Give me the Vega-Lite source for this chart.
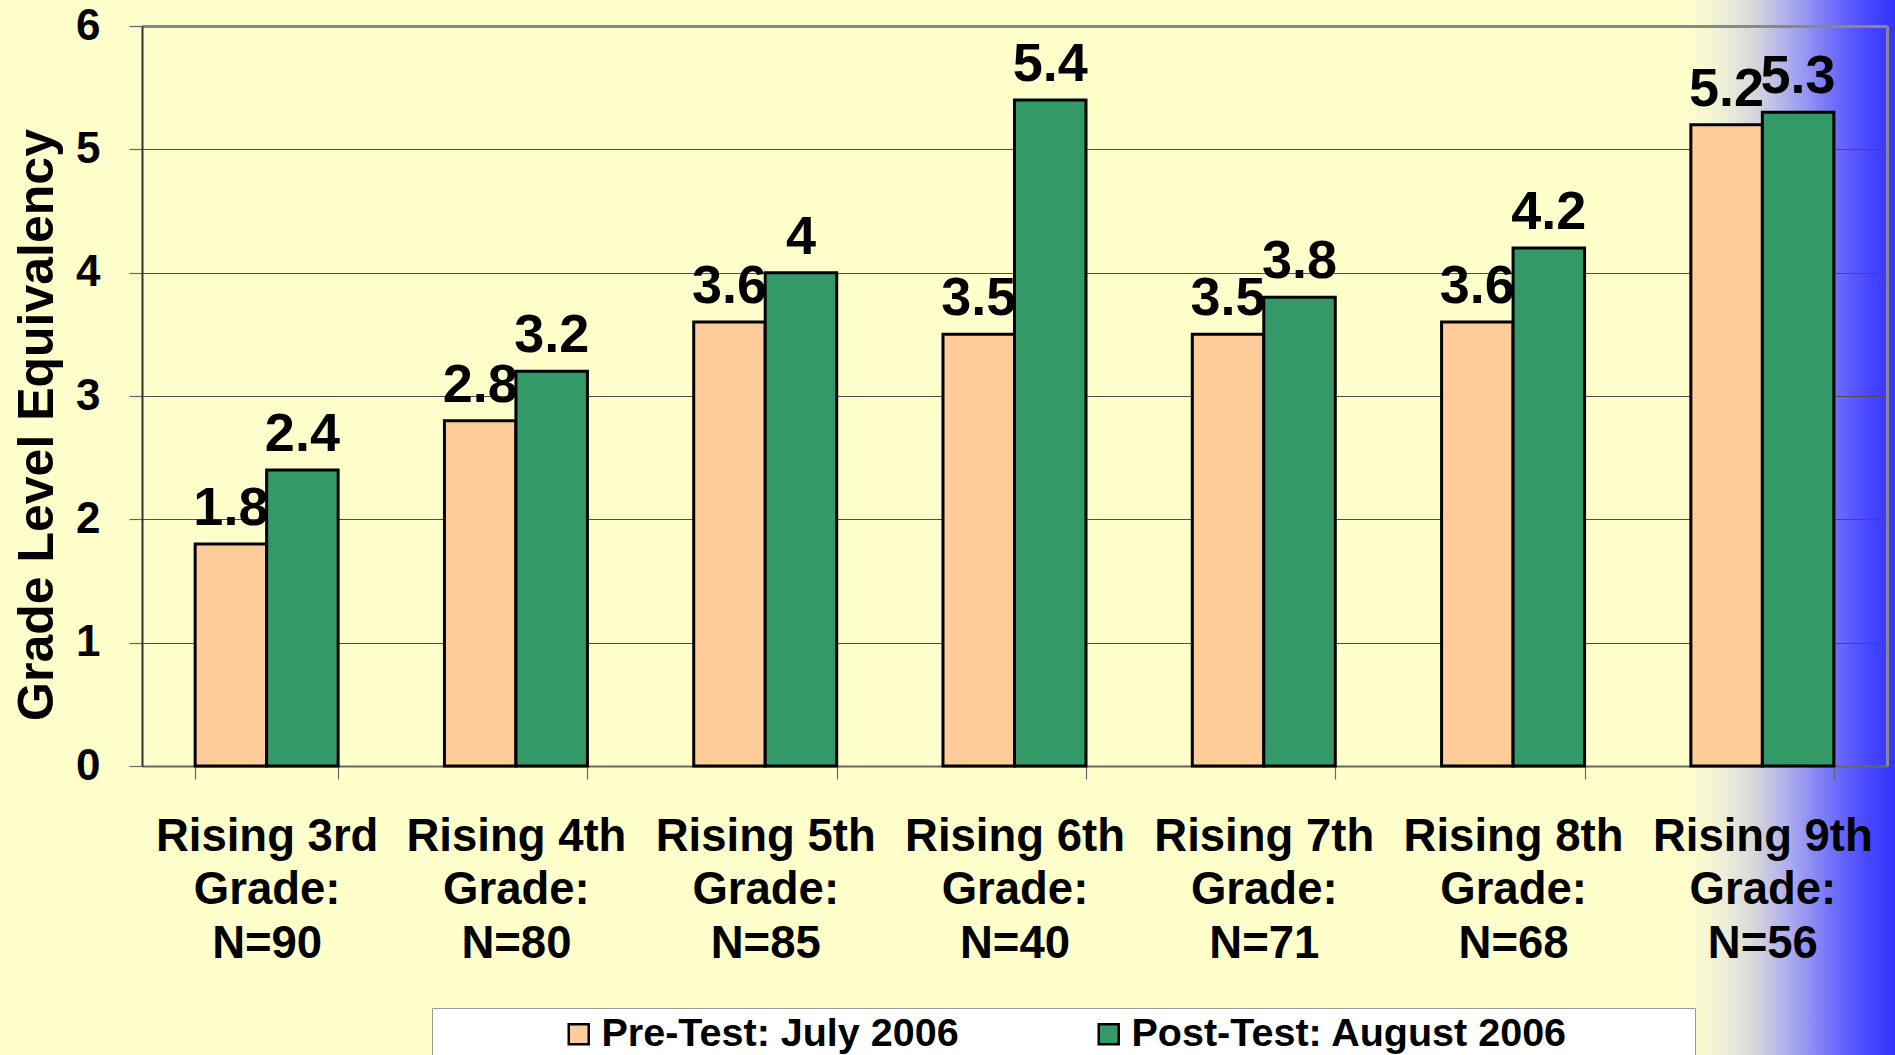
{
  "$schema": "https://vega.github.io/schema/vega-lite/v6.json",
  "width": 1753,
  "height": 1055,
  "autosize": {"type": "none"},
  "padding": {"left": 142, "top": 0, "right": 0, "bottom": 0},
  "background": "#FFFFCC",
  "config": {
    "font": "Liberation Sans",
    "view": {
      "stroke": null,
      "fill": {
        "gradient": "linear",
        "x1": 0, "y1": 0, "x2": 1, "y2": 0,
        "stops": [
          {"offset": 0, "color": "#FFFFCC"},
          {"offset": 0.881, "color": "#FFFFCC"},
          {"offset": 0.8985, "color": "#F2F2D6"},
          {"offset": 0.919, "color": "#D9D9DC"},
          {"offset": 0.94, "color": "#ABABEE"},
          {"offset": 0.9646, "color": "#7070FA"},
          {"offset": 0.984, "color": "#4848FF"},
          {"offset": 1, "color": "#3333FF"}
        ]
      }
    }
  },
  "data": {
    "values": [
      {"group": "Rising 3rd Grade: N=90", "test": "Pre-Test: July 2006", "value": 1.8},
      {"group": "Rising 3rd Grade: N=90", "test": "Post-Test: August 2006", "value": 2.4},
      {"group": "Rising 4th Grade: N=80", "test": "Pre-Test: July 2006", "value": 2.8},
      {"group": "Rising 4th Grade: N=80", "test": "Post-Test: August 2006", "value": 3.2},
      {"group": "Rising 5th Grade: N=85", "test": "Pre-Test: July 2006", "value": 3.6},
      {"group": "Rising 5th Grade: N=85", "test": "Post-Test: August 2006", "value": 4},
      {"group": "Rising 6th Grade: N=40", "test": "Pre-Test: July 2006", "value": 3.5},
      {"group": "Rising 6th Grade: N=40", "test": "Post-Test: August 2006", "value": 5.4},
      {"group": "Rising 7th Grade: N=71", "test": "Pre-Test: July 2006", "value": 3.5},
      {"group": "Rising 7th Grade: N=71", "test": "Post-Test: August 2006", "value": 3.8},
      {"group": "Rising 8th Grade: N=68", "test": "Pre-Test: July 2006", "value": 3.6},
      {"group": "Rising 8th Grade: N=68", "test": "Post-Test: August 2006", "value": 4.2},
      {"group": "Rising 9th Grade: N=56", "test": "Pre-Test: July 2006", "value": 5.2},
      {"group": "Rising 9th Grade: N=56", "test": "Post-Test: August 2006", "value": 5.3}
    ]
  },
  "encoding": {
    "x": {
      "field": "group",
      "type": "nominal",
      "sort": null,
      "scale": {"range": [0, 1745], "paddingInner": 0.4264, "paddingOuter": 0.2132},
      "axis": {
        "title": null,
        "offset": -289,
        "labelAngle": 0,
        "labelExpr": "length(split(datum.label, ' ')) < 4 ? '' : [split(datum.label, ' ')[0] + ' ' + split(datum.label, ' ')[1], split(datum.label, ' ')[2], split(datum.label, ' ')[3]]",
        "labelFontSize": 45.5,
        "labelFontWeight": "bold",
        "labelColor": "black",
        "labelLineHeight": 53.5,
        "labelBaseline": "top",
        "labelPadding": 35,
        "labelLimit": 0,
        "labelOverlap": false,
        "tickBand": "extent",
        "tickSize": 13,
        "tickColor": "#666666",
        "tickWidth": 1.2,
        "domainColor": "#666666",
        "domainWidth": 2,
        "grid": false
      }
    },
    "xOffset": {"field": "test", "type": "nominal", "sort": ["Pre-Test: July 2006", "Post-Test: August 2006"]}
  },
  "layer": [
    {
      "mark": {"type": "bar", "stroke": "black", "strokeWidth": 3},
      "encoding": {
        "y": {
          "field": "value",
          "type": "quantitative",
          "scale": {"domain": [0, 6], "range": [766, 26], "nice": false, "zero": true},
          "axis": {
            "orient": "left",
            "values": [0, 1, 2, 3, 4, 5, 6],
            "title": "Grade Level Equivalency",
            "titleFontSize": 50,
            "titleFontWeight": "bold",
            "titleColor": "black",
            "titleAngle": 270,
            "titleX": -90,
            "titleY": 424.5,
            "titleBaseline": "alphabetic",
            "titleAlign": "center",
            "labelFontSize": 44,
            "labelFontWeight": "bold",
            "labelColor": "black",
            "labelPadding": 29,
            "tickSize": 13,
            "tickColor": "#666666",
            "tickWidth": 1.2,
            "domainColor": "#333333",
            "domainWidth": 2,
            "grid": true,
            "gridColor": {"condition": {"test": "datum.value == 6", "value": "#888888"}, "value": "#4d4d4d"},
            "gridWidth": {"condition": {"test": "datum.value == 6", "value": 3}, "value": 1.2}
          }
        },
        "color": {
          "field": "test",
          "type": "nominal",
          "scale": {"domain": ["Pre-Test: July 2006", "Post-Test: August 2006"], "range": ["#FFCC99", "#339966"]},
          "legend": {
            "orient": "none",
            "legendX": 290,
            "legendY": 1008,
            "direction": "horizontal",
            "columns": 2,
            "title": "\u200b\u00a0\u00a0\u00a0\u00a0\u00a0\u00a0\u00a0\u00a0\u00a0\u00a0\u00a0\u200b",
            "titleOrient": "left",
            "titleFontSize": 39.5,
            "titleFontWeight": "bold",
            "titlePadding": 0,
            "labelExpr": "datum.label == 'Post-Test: August 2006' ? datum.label + '\u00a0\u00a0\u00a0\u00a0\u00a0\u00a0\u00a0\u00a0\u00a0\u00a0\u00a0\u200b' : datum.label",
            "labelFontSize": 39.5,
            "labelFontWeight": "bold",
            "labelColor": "black",
            "labelLimit": 1000,
            "labelOffset": 3,
            "columnPadding": 130,
            "symbolType": "square",
            "symbolSize": 400,
            "symbolStrokeColor": "black",
            "symbolStrokeWidth": 2.5,
            "symbolOpacity": 1,
            "padding": 6,
            "fillColor": "white",
            "strokeColor": "#999999"
          }
        }
      }
    },
    {
      "mark": {"type": "text", "fontSize": 54, "fontWeight": "bold", "baseline": "alphabetic", "dy": -19, "color": "black"},
      "encoding": {
        "y": {
          "field": "value",
          "type": "quantitative",
          "axis": {
            "orient": "right",
            "offset": -8,
            "labels": false,
            "ticks": false,
            "grid": false,
            "title": null,
            "domainColor": "#888888",
            "domainWidth": 3
          }
        },
        "text": {"field": "value", "type": "quantitative"}
      }
    }
  ]
}
